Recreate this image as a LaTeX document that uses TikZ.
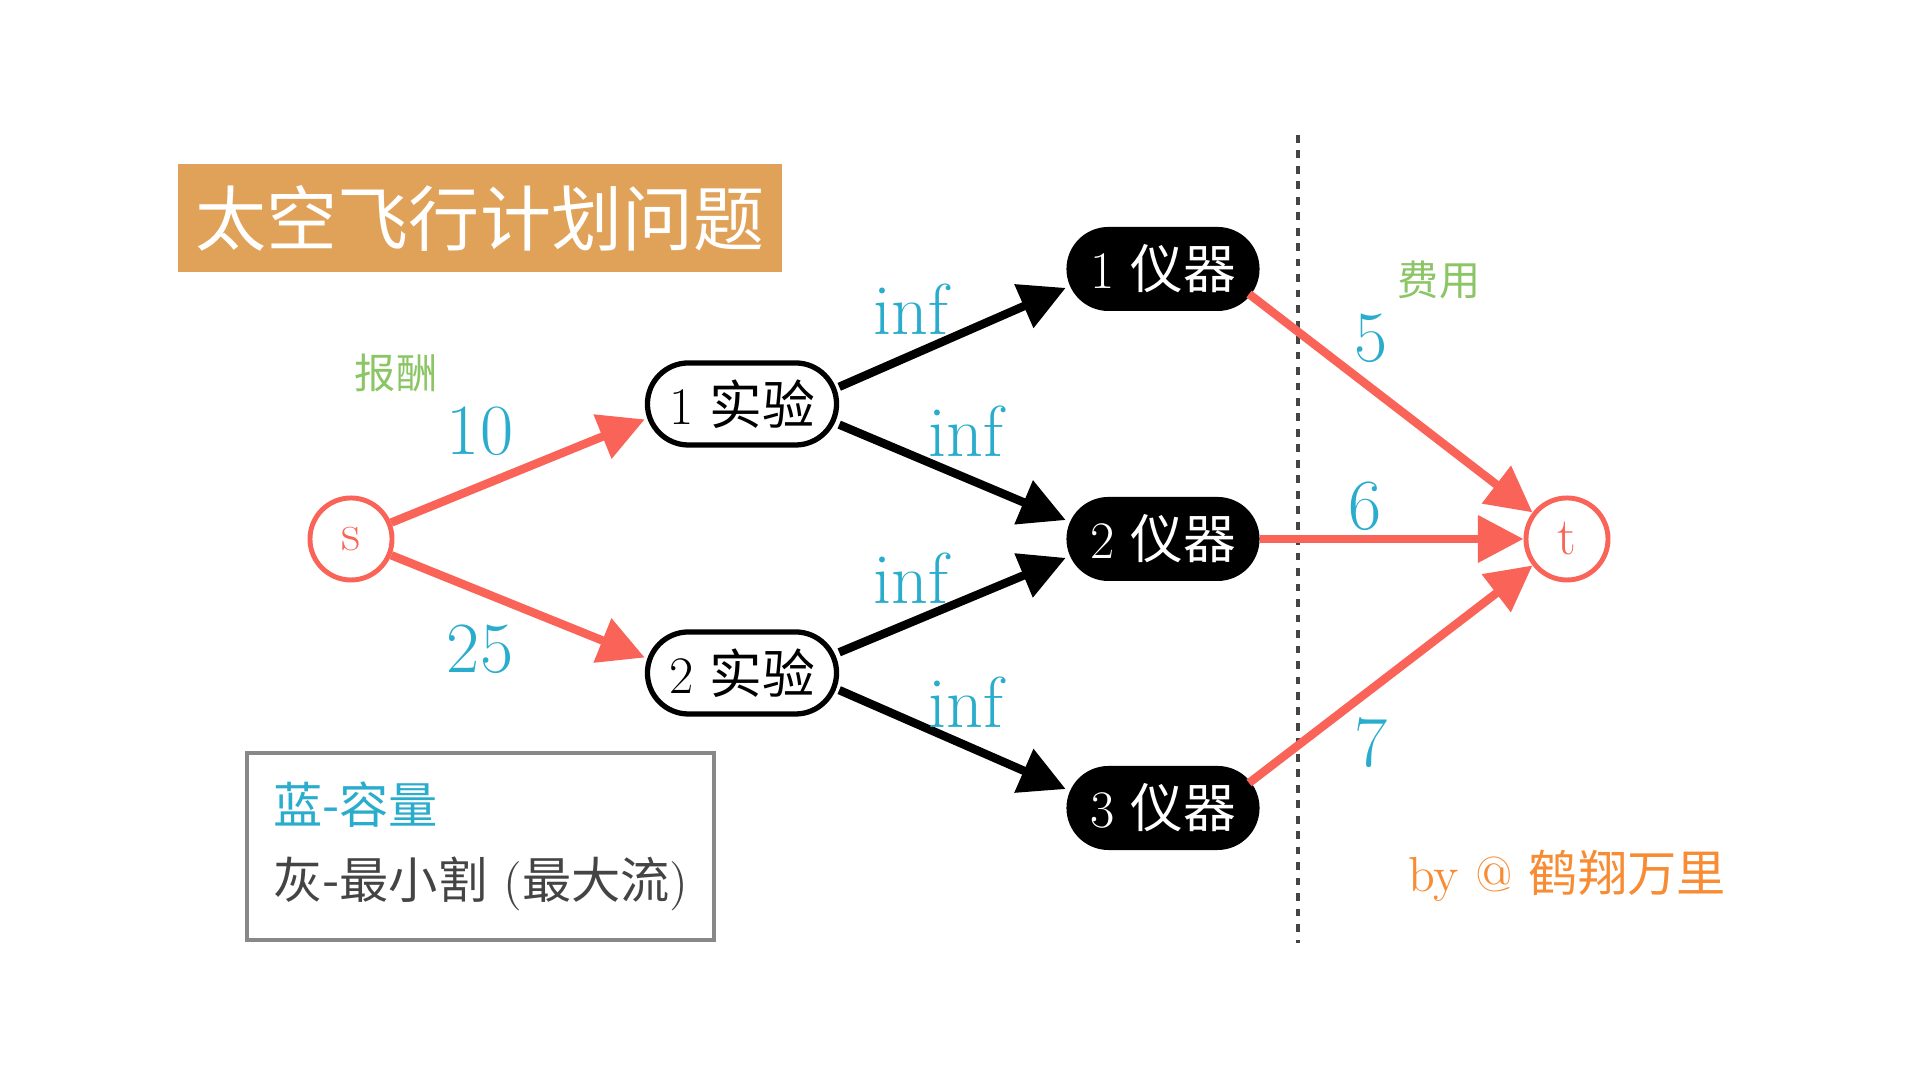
\documentclass[tikz,border=0pt]{standalone}
\usepackage{fontspec}
\usepackage{xcolor}
\usepackage{tikz}
\usetikzlibrary{shapes.geometric, arrows.meta, calc}
\newfontfamily\cjk{Noto Sans CJK SC}
\definecolor{flred}{RGB}{250, 99, 87}
\definecolor{flblue}{RGB}{42, 172, 204}
\definecolor{flgreen}{RGB}{139, 197, 101}
\definecolor{florange}{RGB}{248, 140, 52}
\definecolor{fltitle}{RGB}{224, 162, 88}
\definecolor{flgray}{RGB}{136, 136, 136}
\definecolor{fldark}{RGB}{68, 68, 68}

\begin{document}
\begin{tikzpicture}[x=0.01cm, y=0.01cm,
  term/.style={circle, draw=flred, line width=1.4pt, text=flred, minimum size=0.82cm, inner sep=0pt, font=\fontsize{15}{15}\selectfont},
  expbox/.style={draw, line width=1.5pt, fill=white, minimum width=1.89cm, minimum height=0.82cm, rounded corners=0.41cm, inner sep=0pt, font=\fontsize{15}{15}\selectfont},
  devbox/.style={fill=black, text=white, minimum width=1.93cm, minimum height=0.84cm, rounded corners=0.42cm, inner sep=0pt, font=\fontsize{15}{15}\selectfont},
  flow/.style={line width=2.4pt, -{Triangle[length=13pt, width=13pt]}},
  capnum/.style={text=flblue, font=\fontsize{20.5}{20.5}\selectfont},
  note/.style={text=flgreen, font=\fontsize{11.7}{11.7}\selectfont\cjk}]
\useasboundingbox (0,0) rectangle (1920,1080);

% Title
\node[fill=fltitle, text=white, minimum width=6.04cm, minimum height=1.08cm, font=\fontsize{20.2}{20.2}\selectfont\cjk] (title) at (480,862) {太空飞行计划问题};

% Nodes
\node[term] (s) at (351,541) {s};
\node[term] (t) at (1567,541) {t};
\node[expbox] (e1) at (742,676) {1 {\cjk 实验}};
\node[expbox] (e2) at (742,407) {2 {\cjk 实验}};
\node[devbox] (d1) at (1163,811) {1 {\cjk 仪器}};
\node[devbox] (d2) at (1163,541) {2 {\cjk 仪器}};
\node[devbox] (d3) at (1163,272) {3 {\cjk 仪器}};

% Cut line
\draw[fldark, line width=1.2pt, dash pattern=on 2.2pt off 2.2pt] (1298,945) -- (1298,137);

% Edges
\draw[flow, flred] (s) -- (e1.189);
\draw[flow, flred] (s) -- (e2.171);
\draw[flow] (e1.10) -- (d1.191);
\draw[flow] (e1.-12) -- (d2.169);
\draw[flow] (e2.12) -- (d2.191);
\draw[flow] (e2.-10) -- (d3.169);
\draw[flow, flred] ($(d1)+(86,-25)$) -- (t);
\draw[flow, flred] (d2) -- (t);
\draw[flow, flred] ($(d3)+(86,25)$) -- (t);

% Capacities
\node[capnum] (c10) at (480,649) {10};
\node[capnum] (c25) at (480,431) {25};
\node[capnum] (c11) at (911,771) {inf};
\node[capnum] (c12) at (966,649) {inf};
\node[capnum] (c22) at (911,502) {inf};
\node[capnum] (c23) at (966,378) {inf};
\node[capnum] (c5) at (1371,742) {5};
\node[capnum] (c6) at (1365,574) {6};
\node[capnum] (c7) at (1371,337) {7};
\node[note] (gain) at (396,707) {报酬};
\node[note] (cost) at (1439,800) {费用};

% Legend
\node[draw=flgray, line width=1.2pt, minimum width=4.67cm, minimum height=1.87cm] (legend) at (480.5,233.5) {};
\node[anchor=west, text=flblue, font=\fontsize{14}{14}\selectfont\cjk] (lblue) at (261,275) {蓝-容量};
\node[anchor=west, text=fldark, font=\fontsize{14}{14}\selectfont] (lgray) at (261,196) {{\cjk 灰-最小割} ({\cjk 最大流})};

\node[text=florange, font=\fontsize{14}{14}\selectfont] (sign) at (1567,204) {by @ {\cjk 鹤翔万里}};
\end{tikzpicture}
\end{document}
